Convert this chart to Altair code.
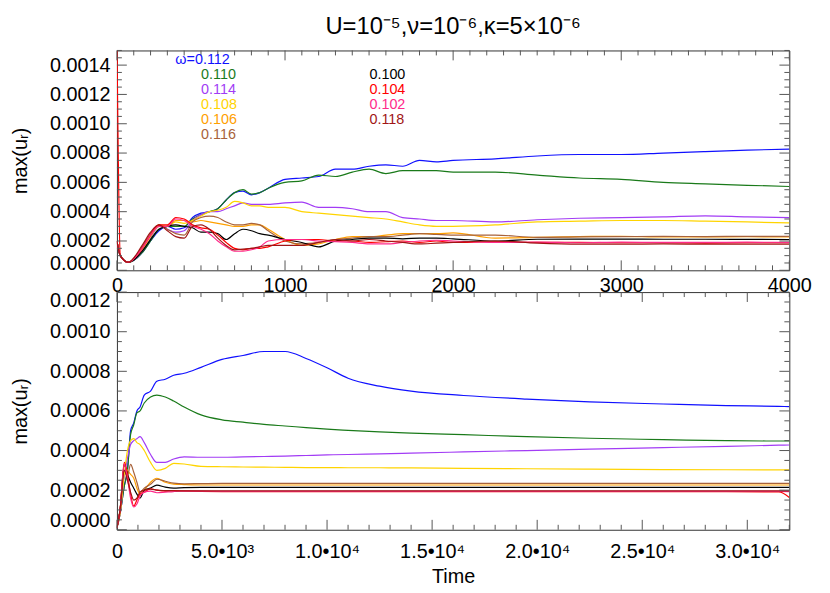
import altair as alt
import pandas as pd
import numpy as np

FONT = "Liberation Sans"
TICK = "#555555"

omegas = ["0.112", "0.110", "0.114", "0.108", "0.106", "0.116", "0.100", "0.104", "0.102", "0.118"]
colors = ["#1010ff", "#1a7a1a", "#a23cf5", "#ffd400", "#ffa000", "#a8623a", "#000000", "#ff0000", "#ff2a8a", "#a01515"]

# ---------------- top panel (t = 0 .. 4000) ----------------
t_top = [0, 20, 67, 150, 200, 250, 300, 350, 400, 450, 500, 550, 600, 650, 700,
         750, 800, 850, 900, 1000, 1100, 1200, 1300, 1400, 1500, 1600, 1700, 1800, 1900, 2000,
         2250, 2500, 2750, 3000, 3250, 3500, 3750, 4000]

top_112 = [0.0002, 0.0001, 0.000055, 0.00012, 0.0002, 0.00027, 0.0003, 0.00028, 0.00029, 0.00036,
           0.00039, 0.0004, 0.00042, 0.00048, 0.00053, 0.00054, 0.000515, 0.00053, 0.00056, 0.00062,
           0.00063, 0.00064, 0.00069, 0.00069, 0.00071, 0.00072, 0.00071, 0.00075, 0.00074, 0.00075,
           0.00076, 0.00078, 0.00079, 0.00079, 0.0008, 0.00081, 0.00082, 0.000827]
top_110 = [0.0002, 0.0001, 0.000055, 0.00012, 0.0002, 0.00028, 0.0003, 0.0003, 0.0003, 0.00035,
           0.00038, 0.0004, 0.00042, 0.00048, 0.00053, 0.00055, 0.00052, 0.00053, 0.00056, 0.0006,
           0.00061, 0.00065, 0.00064, 0.00067, 0.00069, 0.00066, 0.00068, 0.00068, 0.00068, 0.00067,
           0.00067, 0.00065, 0.00063, 0.00062, 0.0006, 0.00059, 0.00058, 0.000572]
top_114 = [0.0002, 0.0001, 0.000055, 0.00013, 0.00022, 0.0003, 0.00028, 0.00026, 0.00027, 0.00034,
           0.00038, 0.0004, 0.0004, 0.00042, 0.00044, 0.00046, 0.00045, 0.00045, 0.00045, 0.00046,
           0.000465, 0.00043, 0.00043, 0.00042, 0.0004, 0.0004, 0.00036, 0.00035, 0.00034, 0.00034,
           0.00033, 0.000345, 0.000355, 0.00036, 0.000365, 0.000372, 0.000365, 0.00036]
top_108 = [0.0002, 0.0001, 0.000055, 0.00014, 0.00023, 0.0003, 0.0003, 0.00033, 0.00032, 0.00034,
           0.00037, 0.0004, 0.00041, 0.00043, 0.00047, 0.00046, 0.00044, 0.00044, 0.00043, 0.00043,
           0.0004, 0.00039, 0.00038, 0.00037, 0.00036, 0.00035, 0.00033, 0.00031, 0.0003, 0.0003,
           0.00031, 0.00033, 0.000335, 0.00034, 0.00034, 0.000335, 0.00033, 0.000323]
top_106 = [0.0002, 0.0001, 0.000055, 0.00015, 0.00024, 0.00031, 0.0003, 0.00034, 0.00034, 0.00033,
           0.00034, 0.00033, 0.00032, 0.00031, 0.0003, 0.0003, 0.00031, 0.00031, 0.00028, 0.00021,
           0.00017, 0.00018, 0.00021, 0.00023, 0.00023, 0.00024, 0.00025, 0.00025, 0.00025, 0.000255,
           0.00022, 0.000225, 0.00023, 0.000232, 0.000228, 0.000228, 0.000229, 0.000228]
top_116 = [0.0002, 0.0001, 0.000055, 0.00016, 0.00025, 0.00031, 0.00028, 0.00025, 0.00024, 0.00033,
           0.00036, 0.00037, 0.00036, 0.00033, 0.00031, 0.00031, 0.00032, 0.00031, 0.00027, 0.0002,
           0.00018, 0.00019, 0.00021, 0.00022, 0.00023, 0.00023, 0.00024, 0.00025, 0.000245, 0.00024,
           0.00024, 0.000225, 0.000228, 0.00023, 0.000232, 0.00023, 0.000232, 0.000232]
top_100 = [0.0002, 0.0001, 0.000055, 0.00013, 0.00021, 0.00028, 0.0003, 0.00031, 0.0003, 0.00029,
           0.00026, 0.00026, 0.00025, 0.00021, 0.00025, 0.00028, 0.00027, 0.00025, 0.00024, 0.00021,
           0.00019, 0.00016, 0.0002, 0.00021, 0.00022, 0.00022, 0.000215, 0.00022, 0.00022, 0.000215,
           0.0002, 0.000212, 0.000213, 0.000213, 0.000212, 0.000212, 0.000211, 0.00021]
top_104 = [0.0016, 0.0001, 0.000055, 0.00015, 0.00024, 0.00031, 0.00031, 0.00036, 0.00035, 0.00031,
           0.00029, 0.00028, 0.00024, 0.00019, 0.00015, 0.00014, 0.00015, 0.00015, 0.00016, 0.0002,
           0.00021, 0.00021, 0.0002, 0.0002, 0.00019, 0.000195, 0.0002, 0.00019, 0.0002, 0.00019,
           0.000195, 0.00019, 0.00019, 0.000188, 0.000188, 0.000186, 0.000188, 0.000188]
top_102 = [0.0002, 0.0001, 0.000055, 0.00015, 0.00024, 0.0003, 0.0003, 0.00035, 0.00034, 0.0003,
           0.00028, 0.00025, 0.0002, 0.00016, 0.00013, 0.00013, 0.00014, 0.00016, 0.0002, 0.00021,
           0.00021, 0.0002, 0.000195, 0.00019, 0.00018, 0.00018, 0.00019, 0.0002, 0.000205, 0.0002,
           0.00019, 0.000192, 0.000188, 0.000192, 0.00019, 0.00019, 0.000192, 0.00019]
top_118 = [0.0002, 0.0001, 0.000055, 0.00017, 0.00026, 0.00031, 0.00027, 0.00023, 0.00022, 0.0003,
           0.00031, 0.00028, 0.00022, 0.00017, 0.00014, 0.000145, 0.00015, 0.00016, 0.00017, 0.00017,
           0.00017, 0.00019, 0.00021, 0.0002, 0.00021, 0.0002, 0.00019, 0.00018, 0.000185, 0.00019,
           0.0002, 0.000185, 0.000178, 0.000178, 0.00018, 0.000178, 0.000178, 0.000178]

# ---------------- bottom panel (t = 0 .. 32000) ----------------
t_bot = [0, 150, 350, 500, 650, 800, 950, 1100, 1300, 1600,
         1900, 2300, 2700, 3200, 4000, 5000, 6000, 7000, 8000, 9000,
         10000, 11000, 12500, 14000, 16500, 19500, 22500, 26000, 29000, 31500, 32000]

bot_112 = [0.00001, 0.00008, 0.00022, 0.0003, 0.0005, 0.00054, 0.0006, 0.00062, 0.00068, 0.0007,
           0.00075, 0.00076, 0.00078, 0.00079, 0.00082, 0.00086, 0.00088, 0.0009, 0.0009, 0.000865,
           0.000818, 0.000765, 0.000725, 0.0007, 0.000678, 0.00066, 0.000646, 0.000635, 0.000627, 0.000623, 0.000622]
bot_110 = [0.00001, 0.00008, 0.00022, 0.0003, 0.00048, 0.00053, 0.00059, 0.0006, 0.00064, 0.00067,
           0.00068, 0.00067, 0.00065, 0.00062, 0.00058, 0.000555, 0.000543, 0.000532, 0.000524, 0.000516,
           0.000508, 0.000502, 0.000494, 0.000488, 0.00048, 0.00047, 0.000462, 0.000455, 0.00045, 0.000448, 0.000448]
bot_114 = [0.00001, 0.00008, 0.00027, 0.00036, 0.00043, 0.00045, 0.00046, 0.00047, 0.00044, 0.00038,
           0.00034, 0.00034, 0.000357, 0.000368, 0.000366, 0.000366, 0.000368, 0.00037, 0.000372, 0.000375,
           0.000378, 0.00038, 0.000383, 0.000387, 0.000393, 0.0004, 0.000407, 0.000415, 0.000421, 0.000427, 0.000428]
bot_108 = [0.00001, 0.00008, 0.00028, 0.0004, 0.00045, 0.00046, 0.00044, 0.00043, 0.0004, 0.00034,
           0.0003, 0.00031, 0.000335, 0.000332, 0.00032, 0.000318, 0.000317, 0.000316, 0.000315, 0.000314,
           0.000314, 0.000313, 0.000313, 0.000312, 0.00031, 0.000308, 0.000306, 0.000304, 0.000303, 0.000302, 0.000302]
bot_106 = [0.00001, 0.0001, 0.00032, 0.0003, 0.00028, 0.00026, 0.00021, 0.00018, 0.0002, 0.00024,
           0.00026, 0.00024, 0.00023, 0.000228, 0.000226, 0.000226, 0.000226, 0.000226, 0.000226, 0.000226,
           0.000226, 0.000226, 0.000226, 0.000226, 0.000226, 0.000226, 0.000226, 0.000226, 0.000226, 0.000226, 0.000226]
bot_116 = [0.00001, 0.0001, 0.0003, 0.00027, 0.00033, 0.00029, 0.00024, 0.00019, 0.00021, 0.00023,
           0.000255, 0.000245, 0.000235, 0.000232, 0.000233, 0.000234, 0.000234, 0.000234, 0.000234, 0.000234,
           0.000234, 0.000234, 0.000234, 0.000234, 0.000234, 0.000234, 0.000234, 0.000234, 0.000234, 0.000234, 0.000234]
bot_100 = [0.00001, 0.0001, 0.00033, 0.00028, 0.00024, 0.00021, 0.00018, 0.00016, 0.0002, 0.00021,
           0.000225, 0.000215, 0.00021, 0.000213, 0.000214, 0.000214, 0.000214, 0.000214, 0.000214, 0.000214,
           0.000214, 0.000214, 0.000214, 0.000214, 0.000214, 0.000214, 0.000214, 0.000214, 0.000214, 0.000214, 0.000214]
bot_104 = [0.00001, 0.0001, 0.00034, 0.00028, 0.00018, 0.00012, 0.00015, 0.00018, 0.00019, 0.000207,
           0.0002, 0.000195, 0.000198, 0.000196, 0.000194, 0.000193, 0.000193, 0.000192, 0.000192, 0.000192,
           0.000192, 0.000192, 0.000192, 0.000192, 0.000192, 0.000192, 0.000192, 0.000192, 0.000192, 0.000191, 0.000163]
bot_102 = [0.00001, 0.0001, 0.00033, 0.00026, 0.00016, 0.000115, 0.00013, 0.00017, 0.00019, 0.000195,
           0.000187, 0.00019, 0.000193, 0.000195, 0.000195, 0.000194, 0.000194, 0.000194, 0.000194, 0.000194,
           0.000194, 0.000194, 0.000194, 0.000194, 0.000194, 0.000194, 0.000194, 0.000194, 0.000194, 0.000194, 0.000193]
bot_118 = [0.00001, 0.0001, 0.0003, 0.00025, 0.00019, 0.00015, 0.00016, 0.00019, 0.0002, 0.000205,
           0.0002, 0.000198, 0.000197, 0.000196, 0.000196, 0.000196, 0.000196, 0.000196, 0.000196, 0.000196,
           0.000196, 0.000196, 0.000196, 0.000196, 0.000196, 0.000196, 0.000196, 0.000196, 0.000196, 0.000196, 0.000196]

top_series = dict(zip(omegas, [top_112, top_110, top_114, top_108, top_106, top_116, top_100, top_104, top_102, top_118]))
bot_series = dict(zip(omegas, [bot_112, bot_110, bot_114, bot_108, bot_106, bot_116, bot_100, bot_104, bot_102, bot_118]))

legend_col1 = ["ω=0.112", "0.110", "0.114", "0.108", "0.106", "0.116"]
legend_col2 = ["0.100", "0.104", "0.102", "0.118"]

top_xticks = [0, 1000, 2000, 3000, 4000]
top_yticks = [0, 0.0002, 0.0004, 0.0006, 0.0008, 0.0010, 0.0012, 0.0014]
bot_xticks = [0, 5000, 10000, 15000, 20000, 25000, 30000]
bot_yticks = [0, 0.0002, 0.0004, 0.0006, 0.0008, 0.0010, 0.0012]


def long_df(times, series):
    rows = []
    for k in omegas:
        for t, v in zip(times, series[k]):
            rows.append({"omega": k, "time": t, "value": v})
    return pd.DataFrame(rows)


def minor(lo, hi, step, majors):
    vals = np.round(np.arange(lo, hi + step / 2, step), 9)
    return [float(v) for v in vals if not any(abs(v - m) < step / 10 for m in majors)]


def tick_layers(X, Y, xmaj, xmin, ymaj, ymin, w, h):
    layers = []
    for vals, L in ((ymaj, 10), (ymin, 5)):
        base = alt.Chart(pd.DataFrame({"value": vals})).mark_rule(color=TICK, strokeWidth=1)
        layers.append(base.encode(y=Y, x=alt.value(0), x2=alt.value(L)))
        layers.append(base.encode(y=Y, x=alt.value(w), x2=alt.value(w - L)))
    for vals, L in ((xmaj, 10), (xmin, 5)):
        base = alt.Chart(pd.DataFrame({"time": vals})).mark_rule(color=TICK, strokeWidth=1)
        layers.append(base.encode(x=X, y=alt.value(h), y2=alt.value(h - L)))
        layers.append(base.encode(x=X, y=alt.value(0), y2=alt.value(L)))
    return layers


W = 679
H1 = 222
H2 = 240
color_scale = alt.Scale(domain=omegas, range=colors)

# ---- top ----
X1 = alt.X("time:Q", scale=alt.Scale(domain=[0, 4000], nice=False, zero=False),
           axis=alt.Axis(values=top_xticks, format="d", title=None, labelPadding=5, labelFlush=False))
Y1 = alt.Y("value:Q", scale=alt.Scale(domain=[0, 0.0015], nice=False, zero=False),
           axis=alt.Axis(values=top_yticks, format=".4f", title="max(uᵣ)", labelPadding=7,
                         labelFlush=True, labelFlushOffset=3, titlePadding=19))
line1 = alt.Chart(long_df(t_top, top_series)).mark_line(strokeWidth=1.2, clip=True, interpolate="monotone").encode(
    x=X1, y=Y1,
    color=alt.Color("omega:N", scale=color_scale, legend=None),
    detail="omega:N",
)
legend_layers = []
one = pd.DataFrame({"a": [0]})
for i, lab in enumerate(legend_col1):
    legend_layers.append(alt.Chart(one).mark_text(align="left", baseline="middle", font=FONT, fontSize=14.5,
                                                  color=colors[i]).encode(
        x=alt.value(59 if i == 0 else 85), y=alt.value(10 + 15 * i), text=alt.value(lab)))
for j, lab in enumerate(legend_col2):
    legend_layers.append(alt.Chart(one).mark_text(align="left", baseline="middle", font=FONT, fontSize=14.5,
                                                  color=colors[6 + j]).encode(
        x=alt.value(255), y=alt.value(25 + 15 * j), text=alt.value(lab)))

top = alt.layer(
    line1,
    *tick_layers(X1, Y1, top_xticks, minor(0, 4000, 100, top_xticks),
                 top_yticks, minor(0, 0.0015, 0.00005, top_yticks), W, H1),
    *legend_layers,
).properties(width=W, height=H1)

# ---- bottom ----
bot_label = ("datum.value == 0 ? '0' : (datum.value < 10000 ? format(datum.value / 1000, '.1f') + '•10³' : "
             "format(datum.value / 10000, '.1f') + '•10⁴')")
X2 = alt.X("time:Q", scale=alt.Scale(domain=[0, 32000], nice=False, zero=False),
           axis=alt.Axis(values=bot_xticks, labelExpr=bot_label, title="Time", labelPadding=12,
                         labelFlush=False, titlePadding=5))
Y2 = alt.Y("value:Q", scale=alt.Scale(domain=[0, 0.0012], nice=False, zero=False),
           axis=alt.Axis(values=bot_yticks, format=".4f", title="max(uᵣ)", labelPadding=7,
                         labelFlush=True, labelFlushOffset=1, titlePadding=19))
line2 = alt.Chart(long_df(t_bot, bot_series)).mark_line(strokeWidth=1.2, clip=True, interpolate="monotone").encode(
    x=X2, y=Y2,
    color=alt.Color("omega:N", scale=color_scale, legend=None),
    detail="omega:N",
)
bottom = alt.layer(
    line2,
    *tick_layers(X2, Y2, bot_xticks, minor(0, 32000, 1000, bot_xticks),
                 bot_yticks, minor(0, 0.0012, 0.00005, bot_yticks), W, H2),
).properties(width=W, height=H2)

chart = alt.vconcat(
    top, bottom, spacing=22, bounds="flush",
    title=alt.TitleParams("U=10⁻⁵,ν=10⁻⁶,κ=5×10⁻⁶", font=FONT, fontSize=24, fontWeight="normal",
                          anchor="middle", frame="group", offset=11, color="black"),
    padding={"left": 2, "top": 4, "right": 10, "bottom": 5},
).configure_view(stroke="#333333", strokeWidth=1).configure_axis(
    grid=False, domain=False, ticks=False, labelFont=FONT, titleFont=FONT, labelFontSize=20,
    titleFontSize=20, labelColor="black", titleColor="black", titleFontWeight="normal", labelOverlap=False,
)

chart.save("out.html", embed_options={"renderer": "svg", "actions": False})
